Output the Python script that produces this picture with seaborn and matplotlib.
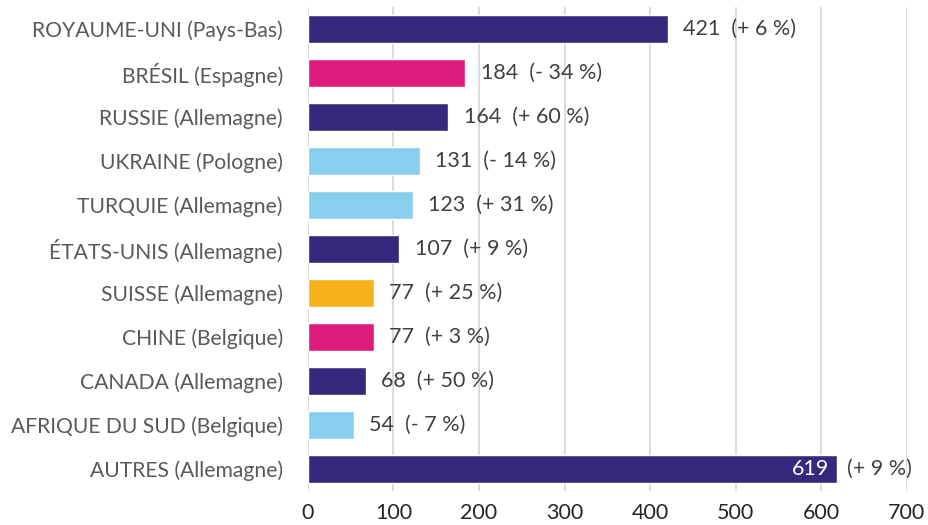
import matplotlib
matplotlib.use("Agg")
import matplotlib.pyplot as plt
import seaborn as sns
import pandas as pd

categories = [
    "ROYAUME-UNI (Pays-Bas)", "BRÉSIL (Espagne)", "RUSSIE (Allemagne)",
    "UKRAINE (Pologne)", "TURQUIE (Allemagne)", "ÉTATS-UNIS (Allemagne)",
    "SUISSE (Allemagne)", "CHINE (Belgique)", "CANADA (Allemagne)",
    "AFRIQUE DU SUD (Belgique)", "AUTRES (Allemagne)",
]
values = [421, 184, 164, 131, 123, 107, 77, 77, 68, 54, 619]
changes = ["+ 6 %", "- 34 %", "+ 60 %", "- 14 %", "+ 31 %", "+ 9 %",
           "+ 25 %", "+ 3 %", "+ 50 %", "- 7 %", "+ 9 %"]
groups = ["purple", "pink", "purple", "blue", "blue", "purple",
          "orange", "pink", "purple", "blue", "purple"]
group_colors = {"purple": "#35297D", "pink": "#DF1C7E",
                "blue": "#88CEEE", "orange": "#F9B11B"}
x_ticks = [0, 100, 200, 300, 400, 500, 600, 700]

df = pd.DataFrame({"cat": categories, "val": values, "grp": groups})

sns.set_theme(style="white")
plt.rcParams["font.family"] = ["Lato", "DejaVu Sans"]

fig = plt.figure(figsize=(9.29, 5.25), dpi=100)
ax = fig.add_axes([0.3315, 0.0648, 0.6445, 0.922])

sns.barplot(data=df, y="cat", x="val", hue="grp", palette=group_colors,
            orient="h", width=0.62, dodge=False, legend=False, ax=ax,
            saturation=1)

ax.set_xlim(0, 700)
ax.set_ylim(10.5, -0.5)
ax.set_xticks(x_ticks)
ax.set_xticklabels([str(t) for t in x_ticks], fontsize=15.5, color="#262626")
ax.tick_params(axis="x", length=0, pad=9)
ax.tick_params(axis="y", length=0, pad=18)
for lbl in ax.get_yticklabels():
    lbl.set_fontsize(15.2)
    lbl.set_color("#595959")
ax.set_xlabel("")
ax.set_ylabel("")
ax.grid(axis="x", color="#D9D9D9", linewidth=1.3)
ax.set_axisbelow(True)
for s in ax.spines.values():
    s.set_visible(False)

last = len(values) - 1
for i, (v, c) in enumerate(zip(values, changes)):
    if i == last:
        ax.annotate(f"{v}", xy=(v, i), xytext=(-6, 0), textcoords="offset points",
                    ha="right", va="center", fontsize=15.5, color="white")
        ax.annotate(f"({c})", xy=(v, i), xytext=(7, 0), textcoords="offset points",
                    ha="left", va="center", fontsize=15.5, color="#404040")
    else:
        ax.annotate(f"{v}  ({c})", xy=(v, i), xytext=(11, 0), textcoords="offset points",
                    ha="left", va="center", fontsize=15.5, color="#404040")

fig.savefig("out.png", dpi=100)
